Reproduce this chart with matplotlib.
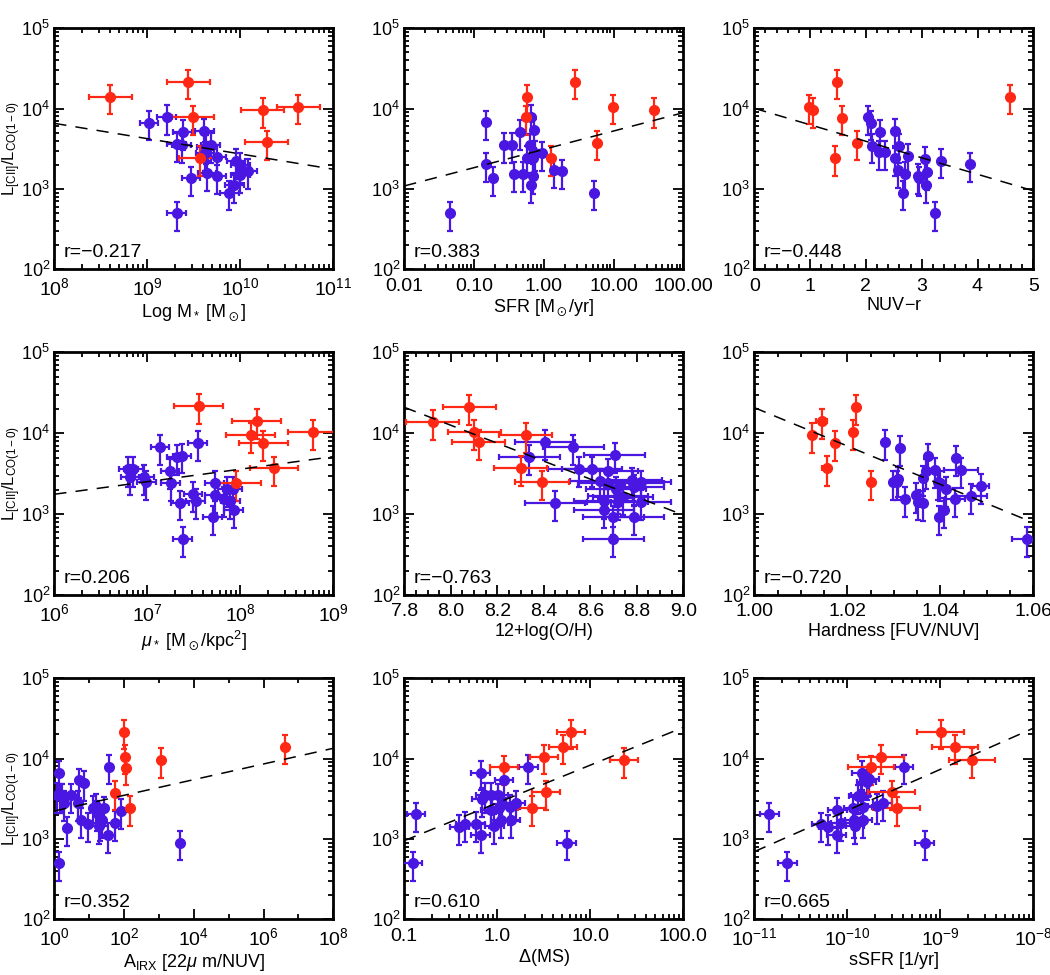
import numpy as np
import matplotlib
matplotlib.use('Agg')
import matplotlib.pyplot as plt
from matplotlib.ticker import LogLocator, FixedLocator, FixedFormatter, AutoMinorLocator, NullFormatter

plt.rcParams['font.family'] = ['Liberation Sans', 'DejaVu Sans']
plt.rcParams['mathtext.fontset'] = 'custom'
plt.rcParams['mathtext.rm'] = 'Liberation Sans'
plt.rcParams['mathtext.it'] = 'Liberation Sans:italic'
plt.rcParams['mathtext.bf'] = 'Liberation Sans:bold'
plt.rcParams['mathtext.fallback'] = 'stixsans'

RED = '#ff2814'
BLUE = '#4a16e2'
YFRAC = 0.4   # fractional error on the line ratio

# ---- panel 1 : stellar mass
mstar_b = [1.04e9, 1.61e9, 2.4e9, 2.07e9, 2.34e9, 2.95e9, 2.07e9, 4.1e9, 4.3e9, 4.8e9, 4.17e9,
           4.4e9, 5.6e9, 5.6e9, 7.6e9, 8.6e9, 9.0e9, 1.0e10, 1.0e10, 1.2e10]
mstar_by = [6700, 7900, 5130, 3600, 3530, 1360, 498, 5320, 3370, 3530, 2780,
            1570, 2500, 1440, 900, 1120, 2230, 2000, 1490, 1680]
mstar_r = [4.0e8, 2.76e9, 3.1e9, 3.68e9, 1.74e10, 1.92e10, 4.2e10]
mstar_ry = [14100, 21700, 7800, 2450, 9600, 3810, 10600]

# ---- panel 2 : SFR
sfr_b = [0.149, 0.147, 0.19, 0.045, 0.27, 0.35, 0.37, 0.45, 0.51, 0.58, 0.64, 0.66, 0.66,
         0.69, 0.72, 0.71, 0.74, 0.93, 1.4, 1.8, 5.3]
sfr_by = [6770, 2030, 1360, 498, 3540, 3540, 1540, 5150, 1530, 2420, 3480, 7950, 1120,
          1460, 5350, 2400, 2800, 2780, 1730, 1650, 900]
sfr_r = [0.58, 0.56, 2.8, 1.26, 5.77, 9.8, 38]
sfr_ry = [14100, 7800, 21700, 2450, 3780, 10600, 9600]

# ---- panel 3 : NUV-r
nuvr_b = [2.03, 2.085, 2.11, 2.25, 2.24, 2.34, 2.53, 2.52, 2.57, 2.60, 2.67, 2.70, 2.75,
          2.94, 2.96, 3.06, 3.08, 3.10, 3.24, 3.34, 3.87]
nuvr_by = [7800, 6700, 3470, 5160, 2850, 2850, 5330, 2450, 1730, 3470, 900, 1540, 2600,
           1460, 1360, 2370, 1120, 1640, 498, 2250, 2030]
nuvr_r = [0.986, 1.06, 1.475, 1.446, 1.565, 1.846, 4.59]
nuvr_ry = [10600, 9600, 21700, 2450, 7750, 3780, 14100]

# ---- panel 4 : stellar mass surface density
mu_b = [6.25e6, 6.5e6, 7.1e6, 9.3e6, 9.8e6, 1.37e7, 1.75e7, 1.78e7, 2.07e7, 2.36e7, 2.24e7,
        2.4e7, 3.47e7, 3.1e7, 3.3e7, 5.05e7, 5.3e7, 5.3e7, 6.6e7, 7.2e7, 7.8e7, 8.3e7, 8.5e7]
mu_by = [3610, 2850, 3610, 2850, 2470, 6700, 3440, 2410, 5040, 5300, 1390,
         493, 7640, 1770, 1450, 912, 1710, 2410, 1530, 2060, 1450, 2030, 1120]
mu_r = [3.56e7, 1.5e8, 1.29e8, 1.77e8, 9.1e7, 2.3e8, 6.0e8]
mu_ry = [21700, 14200, 9500, 7640, 2450, 3680, 10450]

# ---- panel 5 : metallicity
oh_b = [8.406, 8.338, 8.448, 8.527, 8.55, 8.607, 8.642, 8.676, 8.705, 8.677, 8.66, 8.66,
        8.699, 8.71, 8.72, 8.74, 8.778, 8.785, 8.788, 8.816, 8.818, 8.788, 8.699, 8.717]
oh_by = [7800, 5130, 1380, 6700, 3610, 3610, 2590, 3440, 5330, 2410, 1450, 1120,
         912, 2030, 1680, 1640, 2640, 2410, 2150, 2460, 1400, 912, 498, 1400]
oh_r = [7.922, 8.080, 8.101, 8.12, 8.322, 8.30, 8.392]
oh_ry = [13900, 21100, 10440, 7730, 9500, 3720, 2460]

# ---- panel 6 : UV hardness
hard_b = [1.028, 1.0299, 1.0306, 1.031, 1.0313, 1.0324, 1.0348, 1.0353, 1.0362, 1.0363, 1.0369,
          1.0374, 1.0389, 1.0394, 1.0399, 1.0398, 1.0408, 1.0412, 1.0432, 1.0433, 1.0444,
          1.0467, 1.0487, 1.0587]
hard_by = [7800, 2460, 2460, 2750, 6640, 1530, 1710, 1420, 1380, 2770, 3380,
           5270, 3530, 2480, 2410, 912, 1120, 2030, 1520, 5000, 3530,
           1680, 2230, 498]
hard_bxe = [0.0003, 0.0004, 0.0004, 0.0004, 0.0004, 0.0004, 0.0004, 0.0004, 0.0004, 0.0004, 0.0004,
            0.0004, 0.0004, 0.0004, 0.0004, 0.0004, 0.0004, 0.0004, 0.0022, 0.0004, 0.0037,
            0.0033, 0.0018, 0.0032]
hard_r = [1.0125, 1.0145, 1.0156, 1.0173, 1.0213, 1.0219, 1.0251]
hard_ry = [9500, 14200, 3740, 7640, 10450, 21100, 2460]
hard_rxe = [0.0003, 0.0012, 0.001, 0.0003, 0.0003, 0.0003, 0.0003]

# ---- panel 7 : A_IRX
airx_b = [1.33, 1.22, 1.45, 1.7, 1.9, 1.33, 2.36, 2.94, 5.0, 4.76, 5.7, 7.1, 9.4, 13.1, 15.6,
          17.1, 19.5, 20.4, 23.2, 26.6, 35.4, 37.8, 55, 80, 4020]
airx_by = [6700, 3520, 3480, 3480, 2800, 498, 1360, 3480, 5350, 2800, 1730, 5000, 1520, 2450, 2600,
           2100, 1460, 1570, 1730, 2400, 1120, 7950, 1570, 2230, 900]
airx_r = [100, 105, 114, 56, 148, 1120, 4.1e6]
airx_ry = [21700, 10600, 7730, 3780, 2450, 9600, 14100]

# ---- panel 8 : distance from main sequence
dms_b = [0.133, 0.123, 0.39, 0.45, 0.59, 0.66, 0.66, 0.68, 0.74, 0.85, 0.85, 0.93, 1.03, 1.04,
         1.09, 1.11, 1.18, 1.40, 1.38, 1.58, 2.15, 5.57]
dms_by = [2030, 498, 1400, 1540, 1540, 6700, 1120, 3110, 3520, 2310, 3520, 1460, 3480, 2420,
          1730, 2700, 5400, 1700, 2520, 2800, 7950, 900]
dms_r = [6.15, 5.05, 3.18, 1.18, 3.31, 2.34, 23]
dms_ry = [21700, 14100, 10600, 7800, 3810, 2450, 9600]

# ---- panel 9 : sSFR
ssfr_b = [1.45e-11, 2.26e-11, 5.2e-11, 6.25e-11, 7.7e-11, 7.8e-11, 8.5e-11, 1.16e-10, 1.18e-10,
          1.21e-10, 1.31e-10, 1.39e-10, 1.43e-10, 1.46e-10, 1.46e-10, 1.61e-10, 1.72e-10,
          2.1e-10, 2.4e-10, 4.06e-10, 6.8e-10]
ssfr_by = [2030, 498, 1520, 1420, 1120, 2310, 1570, 2420, 1730,
           1460, 3390, 3480, 6700, 2500, 1700, 5160, 5650,
           2580, 2800, 7950, 900]
ssfr_r = [1.01e-9, 1.44e-9, 2.3e-10, 1.8e-10, 3.0e-10, 3.4e-10, 2.2e-9]
ssfr_ry = [21700, 14100, 10600, 7800, 3810, 2400, 9600]

# fit line (y at both x limits) and correlation coefficients
fit_y = [(6560, 1760), (1090, 8900), (10090, 950), (1760, 5130), (20900, 975),
         (20700, 783), (2230, 13450), (953, 24500), (695, 23900)]
r_vals = ['-0.217', '0.383', '-0.448', '0.206', '-0.763', '-0.720', '0.352', '0.610', '0.665']

xlabels = [r'Log M$_*$ [M$_\odot$]', r'SFR [M$_\odot$/yr]', 'NUV$-$r',
           r'$\mu_*$ [M$_\odot$/kpc$^2$]', '12+log(O/H)', 'Hardness [FUV/NUV]',
           r'A$_{\rm IRX}$ [22$\mu$ m/NUV]', r'$\Delta$(MS)', 'sSFR [1/yr]']
xlims = [(1e8, 1e11), (0.01, 100), (0, 5), (1e6, 1e9), (7.8, 9.0), (1.00, 1.06),
         (1, 1e8), (0.1, 100), (1e-11, 1e-8)]
xlogs = [True, True, False, True, False, False, True, True, True]

# (blue x, blue y, blue xerr, red x, red y, red xerr); xerr in dex for log axes
panels = [
    (mstar_b, mstar_by, 0.1, mstar_r, mstar_ry, 0.23),
    (sfr_b, sfr_by, 0, sfr_r, sfr_ry, 0),
    (nuvr_b, nuvr_by, 0, nuvr_r, nuvr_ry, 0),
    (mu_b, mu_by, 0.1, mu_r, mu_ry, 0.26),
    (oh_b, oh_by, 0.13, oh_r, oh_ry, 0.115),
    (hard_b, hard_by, hard_bxe, hard_r, hard_ry, hard_rxe),
    (airx_b, airx_by, 0, airx_r, airx_ry, 0),
    (dms_b, dms_by, 0.1, dms_r, dms_ry, 0.15),
    (ssfr_b, ssfr_by, 0.1, ssfr_r, ssfr_ry, 0.25),
]

lefts = [54.3, 404.3, 754.3]
tops = [28.3, 352.3, 678.3]
heights = [241, 242.7, 241]

fig = plt.figure(figsize=(10.5, 9.75), dpi=100)


def xerrors(x, e, log):
    x = np.asarray(x, float)
    e = np.broadcast_to(np.asarray(e, float), x.shape)
    if log:
        return [x - x / 10**e, x * 10**e - x]
    return [e, e]


for i, (bx, by, bxe, rx, ry, rxe) in enumerate(panels):
    row, col = divmod(i, 3)
    ax = fig.add_axes([lefts[col] / 1050, 1 - (tops[row] + heights[row]) / 975,
                       279 / 1050, heights[row] / 975])
    log = xlogs[i]
    ax.set_yscale('log')
    if log:
        ax.set_xscale('log')
    for xs, ys, xe, c in [(bx, by, bxe, BLUE), (rx, ry, rxe, RED)]:
        ys = np.asarray(ys, float)
        ax.errorbar(xs, ys, yerr=YFRAC * ys, xerr=xerrors(xs, xe, log), fmt='o', color=c,
                    ms=7, elinewidth=1.6, capsize=2.5, capthick=1.6, zorder=3)
    x0, x1 = xlims[i]
    ax.plot([x0, x1], fit_y[i], color='black', lw=1.1, dashes=(8, 6), zorder=4)
    ax.set_xlim(x0, x1)
    ax.set_ylim(1e2, 1e5)
    ax.text(0.035, 0.05, 'r=' + r_vals[i].replace('-', '\u2212'), transform=ax.transAxes,
            fontsize=14)
    ax.set_xlabel(xlabels[i], fontsize=13, labelpad=2)
    if col == 0:
        ax.set_ylabel(r'L$_{\rm [CII]}$/L$_{\rm CO(1-0)}$', fontsize=12)
        ax.yaxis.set_label_coords(-0.112, 0.5)
    ax.yaxis.set_major_locator(LogLocator(base=10, numticks=10))
    ax.yaxis.set_minor_locator(LogLocator(base=10, subs=np.arange(2, 10), numticks=10))
    ax.yaxis.set_minor_formatter(NullFormatter())
    if i == 1:
        ax.xaxis.set_major_locator(FixedLocator([0.01, 0.1, 1, 10, 100]))
        ax.xaxis.set_major_formatter(FixedFormatter(['0.01', '0.10', '1.00', '10.00', '100.00']))
    elif i == 7:
        ax.xaxis.set_major_locator(FixedLocator([0.1, 1, 10, 100]))
        ax.xaxis.set_major_formatter(FixedFormatter(['0.1', '1.0', '10.0', '100.0']))
    elif i == 6:
        ax.xaxis.set_major_locator(FixedLocator([1, 1e2, 1e4, 1e6, 1e8]))
        ax.xaxis.set_major_formatter(FixedFormatter(['10$^{0}$', '10$^{2}$', '10$^{4}$',
                                                     '10$^{6}$', '10$^{8}$']))
        ax.xaxis.set_minor_locator(FixedLocator([10, 1e3, 1e5, 1e7]))
        ax.xaxis.set_minor_formatter(NullFormatter())
    elif i == 2:
        ax.set_xticks(range(6))
        ax.xaxis.set_minor_locator(AutoMinorLocator(5))
    elif i == 4:
        ax.set_xticks(np.arange(7.8, 9.01, 0.2))
        ax.set_xticklabels(['%.1f' % v for v in np.arange(7.8, 9.01, 0.2)])
        ax.xaxis.set_minor_locator(AutoMinorLocator(4))
    elif i == 5:
        ax.set_xticks([1.00, 1.02, 1.04, 1.06])
        ax.set_xticklabels(['1.00', '1.02', '1.04', '1.06'])
        ax.xaxis.set_minor_locator(AutoMinorLocator(4))
    if log and i != 6:
        ax.xaxis.set_minor_locator(LogLocator(base=10, subs=np.arange(2, 10), numticks=20))
        ax.xaxis.set_minor_formatter(NullFormatter())
    ax.tick_params(which='both', direction='in', top=True, right=True, width=1.3)
    ax.tick_params(axis='x', labelsize=14)
    ax.tick_params(axis='y', labelsize=13)
    ax.tick_params(which='major', length=7)
    ax.tick_params(axis='x', which='major', pad=6)
    ax.tick_params(axis='y', which='major', pad=3)
    ax.tick_params(which='minor', length=3.5)
    for s in ax.spines.values():
        s.set_linewidth(2)

fig.savefig('out.png', dpi=100)
